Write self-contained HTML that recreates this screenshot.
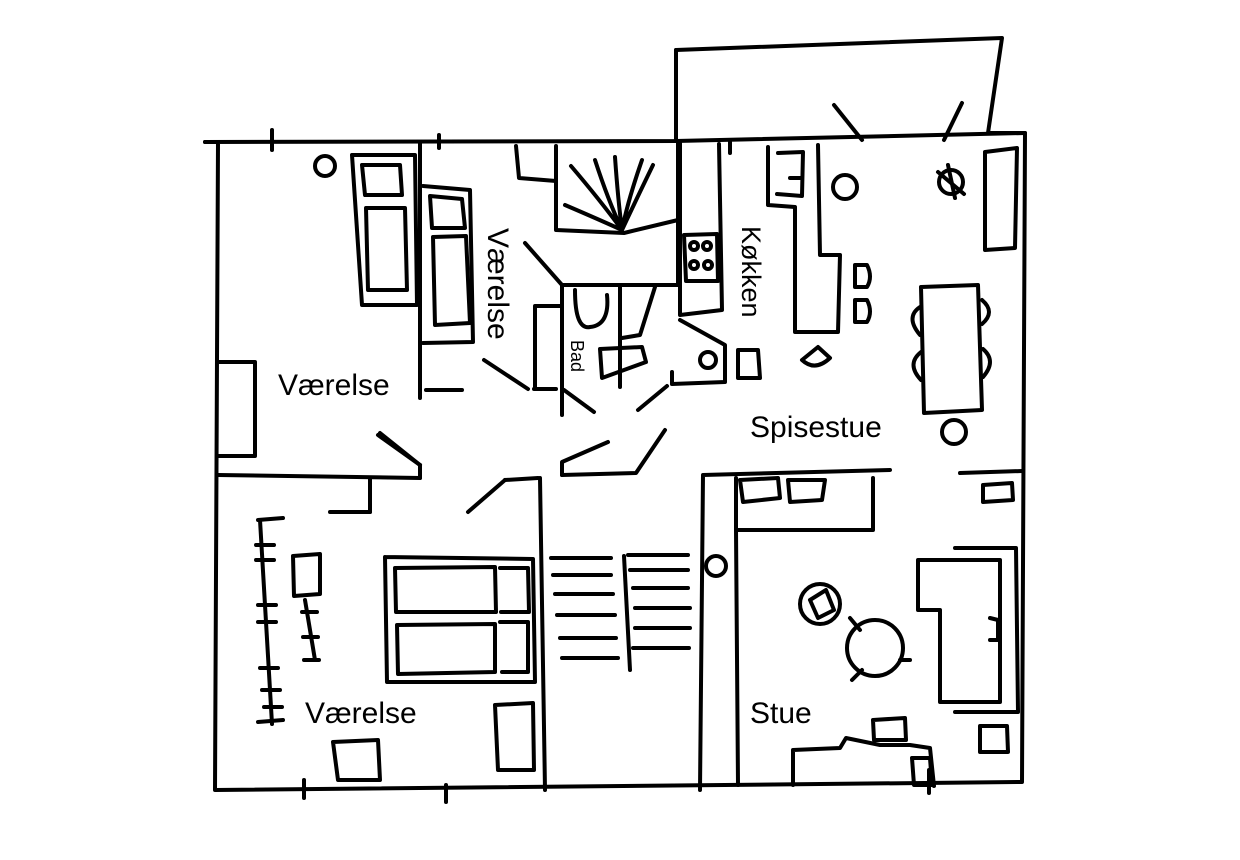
<!DOCTYPE html>
<html><head><style>html,body{margin:0;padding:0;background:#fff;width:1240px;height:860px;overflow:hidden}
text{font-family:"Liberation Sans",sans-serif;fill:#000}</style></head><body>
<svg width="1240" height="860" viewBox="0 0 1240 860" xmlns="http://www.w3.org/2000/svg">
<g fill="none" stroke="#000" stroke-width="4" stroke-linecap="round" stroke-linejoin="round">
<!-- outer walls -->
<polyline points="205,142 676,141 676,50 1002,38 988,133 1025,133 1022,782 215,790 218,142"/>
<line x1="205" y1="142" x2="218" y2="142"/>
<line x1="676" y1="141" x2="1025" y2="133"/>
<polyline points="676,141 676,50"/>
<line x1="834" y1="105" x2="862" y2="140"/>
<line x1="944" y1="140" x2="962" y2="103"/>
<line x1="272" y1="130" x2="272" y2="150"/><line x1="439" y1="135" x2="439" y2="148"/>
<line x1="304" y1="780" x2="304" y2="798"/><line x1="446" y1="785" x2="446" y2="802"/>
<line x1="929" y1="770" x2="929" y2="793"/><line x1="730" y1="140" x2="730" y2="153"/>
<!-- left upper room -->
<polyline points="218,475 420,478"/><polyline points="218,362 255,362 255,456 218,456"/>
<line x1="380" y1="433" x2="420" y2="465"/><line x1="420" y1="465" x2="420" y2="478"/>
<polyline points="420,142 420,398"/><line x1="426" y1="390" x2="462" y2="390"/>
<polyline points="352,155 415,155 417,305 362,305 352,155"/>
<polyline points="362,165 400,165 402,195 365,195 362,165"/>
<polyline points="366,208 405,208 407,290 368,290 366,208"/>
<circle cx="325" cy="166" r="10"/>
<!-- second room -->
<polyline points="423,186 470,190 473,342 423,343"/>
<polyline points="430,196 462,199 465,228 432,228 430,196"/>
<polyline points="433,237 466,236 470,323 435,325 433,237"/>
<line x1="484" y1="360" x2="528" y2="389"/>
<line x1="534" y1="389" x2="556" y2="389"/>
<polyline points="516,146 519,178 556,181"/>
<line x1="525" y1="243" x2="562" y2="285"/>
<!-- stair top -->
<polyline points="556,146 556,230 624,233 678,220"/>
<polyline points="678,143 678,285 562,285"/>
<polyline points="562,285 562,415"/>
<polyline points="535,388 535,306 562,306"/>
<line x1="564" y1="390" x2="594" y2="412"/>
<!-- fan lines -->
<path d="M571,166 Q600,200 622,230 M595,160 Q608,200 622,230 M615,157 Q618,200 622,230 M642,160 Q628,200 622,230 M653,165 Q636,200 622,230 M565,205 Q600,220 622,230"/>
<!-- bad -->
<path d="M575,290 Q575,330 590,327 Q610,325 607,295"/>
<line x1="620" y1="287" x2="620" y2="387"/>
<polyline points="655,287 640,335 622,338"/>
<polyline points="600,349 642,347 646,362 602,378 600,349"/>
<!-- kitchen -->
<polyline points="680,143 680,315 722,310 719,144"/>
<polyline points="684,235 717,234 718,281 686,281 684,235"/>
<circle cx="694" cy="246" r="4"/><circle cx="707" cy="246" r="4"/><circle cx="694" cy="265" r="4"/><circle cx="708" cy="265" r="4"/>
<polyline points="680,320 725,345 725,382 672,384 672,372"/>
<circle cx="708" cy="360" r="8"/>
<polyline points="738,350 758,350 760,378 738,378 738,350"/>
<line x1="638" y1="410" x2="667" y2="386"/>
<!-- counter right -->
<polyline points="768,147 768,205 795,207 795,332 838,332 840,255 820,255 818,145"/>
<polyline points="778,153 803,152 802,196 777,194"/>
<line x1="790" y1="178" x2="802" y2="178"/>
<circle cx="845" cy="187" r="12"/>
<path d="M802,360 L818,347 L830,358 Q815,372 802,360"/>
<path d="M855,265 h12 q6,12 0,22 h-12 z M855,300 h12 q6,12 0,22 h-12 z"/>
<!-- dining table -->
<polyline points="921,287 978,285 982,410 924,413 921,287"/>
<path d="M920,307 q-15,10 0,28 M921,352 q-15,12 0,28 M982,300 q14,12 0,24 M983,349 q14,12 0,28"/>
<circle cx="954" cy="432" r="12"/>
<polyline points="985,152 1017,148 1015,248 985,250 985,152"/>
<circle cx="951" cy="182" r="12"/>
<line x1="938" y1="172" x2="964" y2="194"/><line x1="948" y1="165" x2="955" y2="198"/>
<!-- middle horizontal walls -->
<line x1="468" y1="512" x2="505" y2="480"/><line x1="505" y1="480" x2="538" y2="478"/>
<line x1="330" y1="512" x2="370" y2="512"/><line x1="370" y1="478" x2="370" y2="512"/>
<line x1="378" y1="435" x2="420" y2="465"/>
<polyline points="562,475 562,462 608,442"/>
<polyline points="562,475 636,473 665,430"/>
<line x1="540" y1="478" x2="545" y2="790"/>
<polyline points="700,790 703,475 890,470"/>
<line x1="960" y1="473" x2="1022" y2="471"/>
<polyline points="736,478 736,530 873,530 873,478"/>
<polyline points="740,480 778,478 780,498 743,502 740,480"/>
<polyline points="788,480 825,480 822,500 790,502 788,480"/>
<polyline points="983,485 1012,483 1013,500 983,502 983,485"/>
<line x1="736" y1="530" x2="738" y2="785"/>
<circle cx="716" cy="566" r="10"/>
<!-- lower-left room -->
<line x1="260" y1="520" x2="272" y2="724"/>
<line x1="258" y1="520" x2="283" y2="518"/><line x1="258" y1="722" x2="283" y2="720"/>
<path d="M256,545h18 M256,560h18 M258,605h18 M258,622h18 M260,668h18 M262,690h18 M264,707h18"/>
<polyline points="293,556 320,554 320,594 294,596 293,556"/>
<path d="M305,600 L315,660 M302,612h15 M303,637h15 M304,660h15"/>
<polyline points="385,557 533,559 535,682 387,682 385,557"/>
<polyline points="395,568 495,567 496,612 396,612 395,568"/>
<polyline points="500,568 528,568 529,612 501,612"/>
<polyline points="397,625 495,624 495,672 398,674 397,625"/>
<polyline points="500,622 528,622 528,672 502,672"/>
<polyline points="495,705 533,703 534,770 498,770 495,705"/>
<polyline points="333,742 378,740 380,780 338,780 333,742"/>
<!-- stairs lower -->
<path d="M551,558h60 M553,575h58 M555,594h58 M557,615h58 M560,638h56 M562,658h56 M628,555h60 M630,570h58 M633,588h55 M635,608h55 M635,628h55 M633,648h56"/>
<line x1="624" y1="556" x2="630" y2="670"/>
<!-- living -->
<circle cx="820" cy="604" r="20"/><polyline points="810,600 826,590 834,610 818,618 810,600"/>
<circle cx="875" cy="648" r="28"/>
<line x1="850" y1="618" x2="860" y2="630"/><line x1="852" y1="680" x2="862" y2="670"/>
<line x1="900" y1="660" x2="910" y2="660"/>
<polyline points="918,560 1000,560 1000,702 940,702 940,610 918,610 918,560"/>
<polyline points="955,548 1016,548 1018,712 955,712"/>
<polyline points="873,720 905,718 906,740 874,740 873,720"/>
<polyline points="793,785 793,750 840,748 846,738 880,745 910,745 930,748 934,786"/>
<polyline points="912,758 930,758 932,785 914,785 912,758"/>
<polyline points="980,726 1007,726 1008,752 980,752 980,726"/>
<polyline points="990,618 998,620 998,640 990,640"/>
</g>
<g font-size="30">
<text x="278" y="395">Værelse</text>
<text x="305" y="723">Værelse</text>
<text x="750" y="437">Spisestue</text>
<text x="750" y="723">Stue</text>
<text transform="translate(488,228) rotate(90)">Værelse</text>
<text transform="translate(742,226) rotate(90)" font-size="27">Køkken</text>
<text transform="translate(571,340) rotate(90)" font-size="18">Bad</text>
</g>
</svg>
</body></html>
